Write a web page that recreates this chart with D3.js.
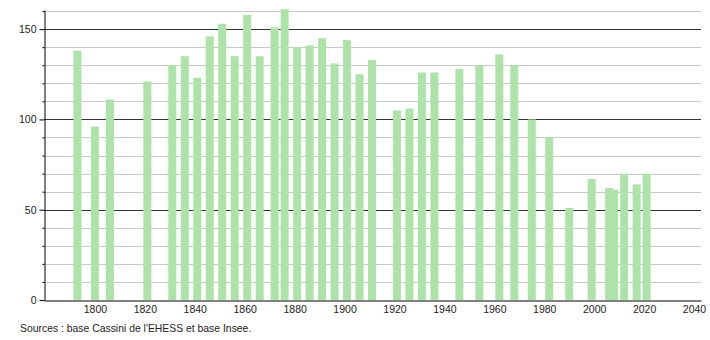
<!DOCTYPE html>
<html><head><meta charset="utf-8">
<script src="https://cdn.jsdelivr.net/npm/d3@7"></script>
<style>body{margin:0;background:#fff;}text{font-family:"Liberation Sans",Arial,sans-serif;}</style>
</head><body>
<svg id="c" width="710" height="340"></svg>
<script>
const years = [1793,1800,1806,1821,1831,1836,1841,1846,1851,1856,1861,1866,1872,1876,1881,1886,1891,1896,1901,1906,1911,1921,1926,1931,1936,1946,1954,1962,1968,1975,1982,1990,1999,2006,2008,2012,2017,2021];
const population = [138,96,111,121,130,135,123,146,153,135,158,135,151,161,140,141,145,131,144,125,133,105,106,126,126,128,130,136,130,100,90,51,67,62,61,70,64,70];
const yMajorTicks = [0,50,100,150];
const yMinorTicks = [10,20,30,40,60,70,80,90,110,120,130,140,160];
const xTicks = [1800,1820,1840,1860,1880,1900,1920,1940,1960,1980,2000,2020,2040];
const sourceText = "Sources : base Cassini de l'EHESS et base Insee.";

const svg = d3.select("#c");
const mLeft = 44, mRight = 701, mTop = 10, mBottom = 300;
const x = d3.scaleLinear().domain([1779.6, 2042.8]).range([mLeft, mRight]);
const y = d3.scaleLinear().domain([0, 160.6]).range([mBottom, mTop]);

// minor grid
svg.append("g").selectAll("line").data(yMinorTicks).join("line")
  .attr("x1", mLeft).attr("x2", mRight)
  .attr("y1", d => Math.round(y(d)) + 0.5).attr("y2", d => Math.round(y(d)) + 0.5)
  .attr("stroke", "#c8c8c8").attr("stroke-width", 1);
// major grid
svg.append("g").selectAll("line").data(yMajorTicks.filter(d => d > 0)).join("line")
  .attr("x1", mLeft).attr("x2", mRight)
  .attr("y1", d => Math.round(y(d)) + 0.5).attr("y2", d => Math.round(y(d)) + 0.5)
  .attr("stroke", "#333").attr("stroke-width", 1);

// bars
svg.append("g").selectAll("rect").data(years).join("rect")
  .attr("x", d => x(d) - 4)
  .attr("width", 8)
  .attr("y", (d, i) => y(population[i]))
  .attr("height", (d, i) => mBottom - y(population[i]))
  .attr("fill", "#ade3a9");

// y axis
const yAxis = d3.axisLeft(y).tickValues(yMajorTicks).tickSize(5).tickSizeOuter(0).tickPadding(3);
const gy = svg.append("g").attr("transform", `translate(${mLeft + 0.5},0)`).call(yAxis);
gy.select(".domain").attr("stroke", "#000");
gy.selectAll(".tick line").attr("stroke", "#000");
gy.selectAll("text").attr("font-size", 10.5).attr("fill", "#222").attr("font-family", "Liberation Sans, Arial, sans-serif");
const yMinorAxis = d3.axisLeft(y).tickValues(yMinorTicks).tickSize(2).tickFormat("");
const gym = svg.append("g").attr("transform", `translate(${mLeft + 0.5},0)`).call(yMinorAxis);
gym.select(".domain").remove();
gym.selectAll(".tick line").attr("stroke", "#000");

// x axis
const xAxis = d3.axisBottom(x).tickValues(xTicks).tickSize(0).tickSizeOuter(0).tickPadding(5).tickFormat(d3.format("d"));
const gx = svg.append("g").attr("transform", `translate(0,${mBottom + 0.5})`).call(xAxis);
gx.select(".domain").attr("stroke", "#000");
gx.selectAll("text").attr("font-size", 10.5).attr("fill", "#222").attr("font-family", "Liberation Sans, Arial, sans-serif");

svg.append("text").attr("x", 20).attr("y", 332).attr("font-size", 10.4).attr("fill", "#222").text(sourceText);
</script>
</body></html>
